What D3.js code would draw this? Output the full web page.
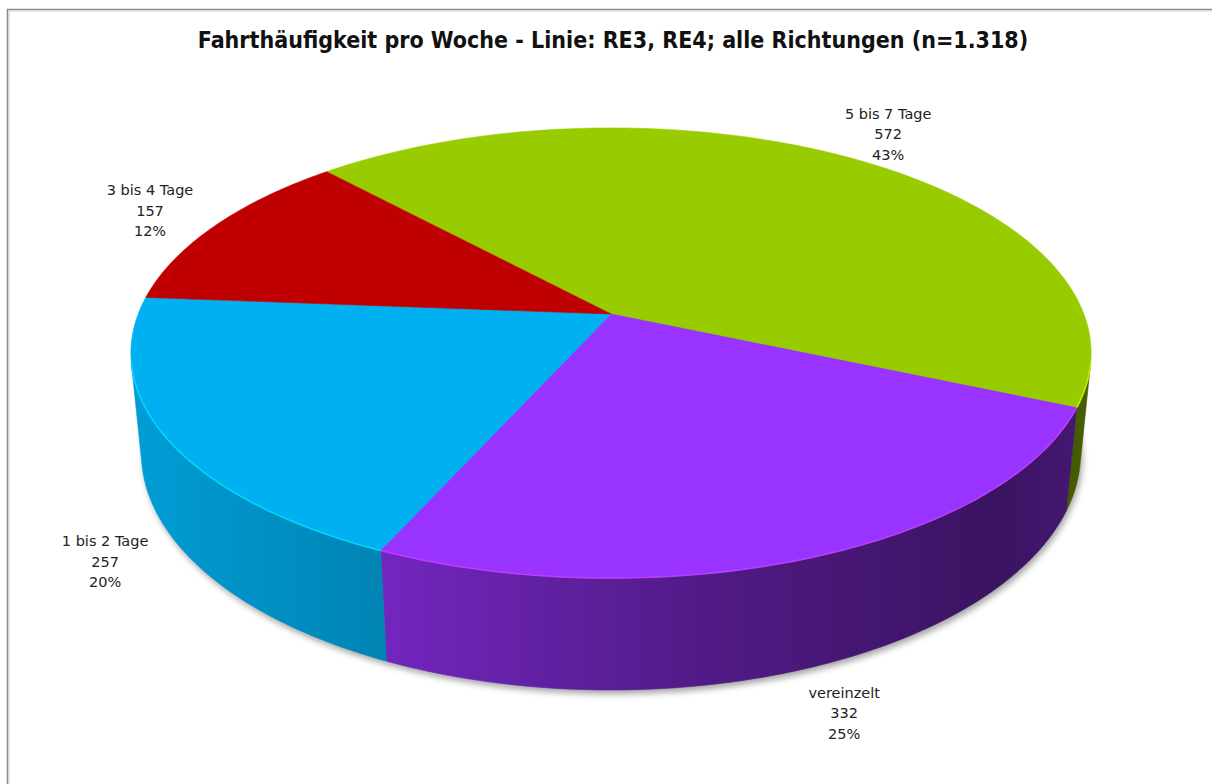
<!DOCTYPE html>
<html>
<head>
<meta charset="utf-8">
<script src="https://cdn.jsdelivr.net/npm/d3@7"></script>
<style>
  body { margin: 0; background: #fff; }
</style>
</head>
<body>
<div id="chart"></div>
<script>
const title = 'Fahrthäufigkeit pro Woche - Linie: RE3, RE4; alle Richtungen (n=1.318)';
const categories = ['5 bis 7 Tage', 'vereinzelt', '1 bis 2 Tage', '3 bis 4 Tage'];
const counts = [572, 332, 257, 157];
const percents = ['43%', '25%', '20%', '12%'];
const colors = ['#99cc00', '#9933ff', '#00b0f0', '#c00000'];

const width = 1212;
const height = 784;

// camera fitted to the picture: disc of radius 1 seen from above with perspective
const cx = 611, cy = 314;
const focal = 2420;
const dist = 5.118;
const tilt = 27.5 * Math.PI / 180;
const thick = 0.24;
const startAngle = -42.7 * Math.PI / 180;

function project(a, r, level) {
  const x = r * Math.sin(a);
  const z = -r * Math.cos(a);
  const y = -level;
  const d = dist - y * Math.sin(tilt) - z * Math.cos(tilt);
  return [cx + focal * x / d, cy + focal * (z * Math.sin(tilt) - y * Math.cos(tilt)) / d];
}

function arcPoints(a0, a1, r, level) {
  const n = Math.max(2, Math.ceil(Math.abs(a1 - a0) * 60));
  return d3.range(n + 1).map(i => project(a0 + (a1 - a0) * i / n, r, level));
}

function shade(c, k) {
  const rgb = d3.rgb(c);
  return d3.rgb(rgb.r * k, rgb.g * k, rgb.b * k).formatHex();
}

const line = d3.line();

const svg = d3.select('#chart').append('svg')
  .attr('width', width)
  .attr('height', height);

const defs = svg.append('defs');
defs.append('filter').attr('id', 'blur')
  .attr('x', '-10%').attr('y', '-10%').attr('width', '120%').attr('height', '120%')
  .append('feGaussianBlur').attr('stdDeviation', 3);

// frame
svg.append('rect')
  .attr('x', 7.5).attr('y', 9.5)
  .attr('width', 1400).attr('height', 1000)
  .attr('fill', 'none')
  .attr('stroke', '#8a8a8a')
  .attr('stroke-width', 1.5);
svg.append('rect')
  .attr('x', 9).attr('y', 11)
  .attr('width', 1400).attr('height', 1000)
  .attr('fill', 'none')
  .attr('stroke', '#cfcfcf')
  .attr('stroke-width', 1);

svg.append('text')
  .attr('x', 613)
  .attr('y', 48)
  .attr('text-anchor', 'middle')
  .style('font-family', '"DejaVu Sans Condensed", "DejaVu Sans", sans-serif')
  .style('font-weight', 'bold')
  .style('font-size', '23px')
  .attr('fill', '#111')
  .text(title);

const pie = d3.pie()
  .sort(null)
  .startAngle(startAngle)
  .endAngle(startAngle + 2 * Math.PI);
const arcs = pie(counts);

// visible part of the outer wall (tangent lines from the camera)
const sil = Math.acos(-1 / (dist * Math.cos(tilt)));
const visLo = sil, visHi = 2 * Math.PI - sil;

const xLeft = project(visHi, 1, 0)[0];
const xRight = project(visLo, 1, 0)[0];
const shadeStops = [[0, 0.89], [0.26, 0.75], [0.59, 0.53], [0.9, 0.38], [1, 0.46]];

arcs.forEach((d, i) => {
  const g = defs.append('linearGradient')
    .attr('id', 'wall' + i)
    .attr('gradientUnits', 'userSpaceOnUse')
    .attr('x1', xLeft).attr('x2', xRight)
    .attr('y1', 0).attr('y2', 0);
  g.selectAll('stop').data(shadeStops).enter().append('stop')
    .attr('offset', s => s[0])
    .attr('stop-color', s => shade(colors[i], s[1]));
});

// shadow under the pie
const bottomRing = arcPoints(0, 2 * Math.PI, 1, thick);
svg.append('path')
  .attr('d', line(bottomRing) + 'Z')
  .attr('transform', 'translate(2,4)')
  .attr('fill', '#000')
  .attr('opacity', 0.35)
  .attr('filter', 'url(#blur)');

// outer walls
const walls = arcs.map((d, i) => {
  const lo = Math.max(d.startAngle, visLo);
  const hi = Math.min(d.endAngle, visHi);
  return { i, lo, hi };
}).filter(w => w.hi > w.lo);

svg.selectAll('.wall')
  .data(walls)
  .enter().append('path')
  .attr('class', 'wall')
  .attr('d', w => line(arcPoints(w.lo, w.hi, 1, 0).concat(arcPoints(w.hi, w.lo, 1, thick))) + 'Z')
  .attr('fill', w => `url(#wall${w.i})`)
  .attr('stroke', w => `url(#wall${w.i})`)
  .attr('stroke-width', 0.6);

// top faces
svg.selectAll('.top')
  .data(arcs)
  .enter().append('path')
  .attr('class', 'top')
  .attr('d', d => line([project(0, 0, 0)].concat(arcPoints(d.startAngle, d.endAngle, 1, 0))) + 'Z')
  .attr('fill', (d, i) => colors[i])
  .attr('stroke', (d, i) => colors[i])
  .attr('stroke-width', 0.6);

// light rim on the front edge
svg.selectAll('.rim')
  .data(walls)
  .enter().append('path')
  .attr('class', 'rim')
  .attr('d', w => line(arcPoints(w.lo, w.hi, 1, 0)))
  .attr('fill', 'none')
  .attr('stroke', w => d3.rgb(colors[w.i]).brighter(0.7))
  .attr('stroke-width', 1.6)
  .attr('opacity', 0.8);

// labels: outside the rim, under the wall for front slices
svg.selectAll('.label')
  .data(arcs)
  .enter().append('text')
  .attr('class', 'label')
  .attr('text-anchor', 'middle')
  .style('font-family', '"DejaVu Sans", sans-serif')
  .style('font-size', '14.5px')
  .attr('fill', '#222')
  .each(function (d, i) {
    const mid = (d.startAngle + d.endAngle) / 2;
    const front = Math.cos(mid) < 0;
    const p = project(mid, front ? 1.145 : 1.18, front ? thick : 0);
    const t = d3.select(this);
    [categories[i], counts[i], percents[i]].forEach((s, k) => {
      t.append('tspan')
        .attr('x', p[0])
        .attr('y', p[1] + 5 + (k - 1) * 20.5)
        .text(s);
    });
  });
</script>
</body>
</html>
